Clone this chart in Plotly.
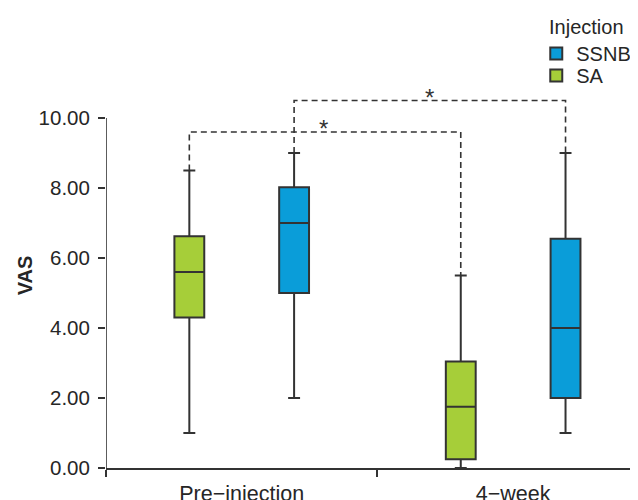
import plotly.graph_objects as go

# ---- data ----
categories = ["Pre\u2212injection", "4\u2212week"]
series_names = ["SA", "SSNB"]
sa_lower = [1.0, 0.0]
sa_q1 = [4.3, 0.25]
sa_median = [5.6, 1.75]
sa_q3 = [6.62, 3.04]
sa_upper = [8.5, 5.5]
ssnb_lower = [2.0, 1.0]
ssnb_q1 = [5.0, 2.0]
ssnb_median = [7.0, 4.0]
ssnb_q3 = [8.02, 6.55]
ssnb_upper = [9.0, 9.0]
y_ticks = [0, 2, 4, 6, 8, 10]
bracket_heights = [9.6, 10.5]   # SA comparison, SSNB comparison
bracket_labels = ["*", "*"]

# ---- styling ----
green = "#A6CE39"
blue = "#0A9DD9"
edge = "#333333"
offset = 0.193
box_w = 0.11
font = "Liberation Sans, Arial, sans-serif"

idx = list(range(len(categories)))
sa_x = [i - offset for i in idx]
ssnb_x = [i + offset for i in idx]

fig = go.Figure()
fig.add_trace(go.Box(
    name="SA", x=sa_x, q1=sa_q1, median=sa_median, q3=sa_q3,
    lowerfence=sa_lower, upperfence=sa_upper,
    fillcolor=green, line=dict(color=edge, width=2),
    width=box_w, whiskerwidth=0.4, boxpoints=False, legend="legend2",
))
fig.add_trace(go.Box(
    name="SSNB", x=ssnb_x, q1=ssnb_q1, median=ssnb_median, q3=ssnb_q3,
    lowerfence=ssnb_lower, upperfence=ssnb_upper,
    fillcolor=blue, line=dict(color=edge, width=2),
    width=box_w, whiskerwidth=0.4, boxpoints=False, legend="legend",
))

# significance brackets
pairs = [
    (sa_x[0], sa_upper[0], sa_x[1], sa_upper[1]),
    (ssnb_x[0], ssnb_upper[0], ssnb_x[1], ssnb_upper[1]),
]
star_pos = [0.30, 0.69]
for (x0, y0, x1, y1), h, lab, sx in zip(pairs, bracket_heights, bracket_labels, star_pos):
    fig.add_trace(go.Scatter(
        x=[x0, x0, x1, x1], y=[y0, h, h, y1], mode="lines",
        line=dict(color=edge, width=1.6, dash="6px,4px"),
        showlegend=False, hoverinfo="skip",
    ))
    fig.add_annotation(x=sx, y=h, text=lab, showarrow=False, yanchor="bottom",
                       yshift=-12, font=dict(size=24, color=edge, family=font))

# y-axis line only up to 10
fig.add_shape(type="line", xref="x", yref="y", x0=-0.5, x1=-0.5, y0=0, y1=10,
              line=dict(color=edge, width=1.6))

fig.update_layout(
    width=638, height=500,
    margin=dict(l=98, r=8, t=75, b=40, autoexpand=False),
    plot_bgcolor="white", paper_bgcolor="white",
    font=dict(family=font, color="#262626", size=20),
    showlegend=True,
    legend=dict(
        title=dict(text="Injection", font=dict(size=20), side="top center"),
        xref="container", yref="container",
        x=0.828, y=1.0, xanchor="left", yanchor="top",
        font=dict(size=20), bgcolor="rgba(0,0,0,0)",
    ),
    legend2=dict(
        xref="container", yref="container",
        x=0.828, y=0.904, xanchor="left", yanchor="top",
        font=dict(size=20), bgcolor="rgba(0,0,0,0)",
    ),
    xaxis=dict(
        range=[-0.5, 1.46], tickmode="array", tickvals=idx, ticktext=categories,
        ticks="outside", ticklen=5, tickcolor="rgba(0,0,0,0)",
        showline=True, linecolor=edge, linewidth=1.6, showgrid=False, zeroline=False,
        tickfont=dict(size=21.5),
        minor=dict(tickmode="array", tickvals=[-0.5, 0.5], ticks="outside",
                   ticklen=7, tickcolor=edge, tickwidth=1.6, showgrid=False),
    ),
    yaxis=dict(
        range=[0, 11], tickmode="array", tickvals=y_ticks,
        tickformat=".2f", ticks="outside", ticklen=7, tickcolor=edge, tickwidth=1.6,
        ticklabelstandoff=4,
        showline=False, showgrid=False, zeroline=False, automargin=True,
        title=dict(text="<b>VAS</b>", font=dict(size=20), standoff=0),
        tickfont=dict(size=20.5),
    ),
)

fig.write_html("out.html")
